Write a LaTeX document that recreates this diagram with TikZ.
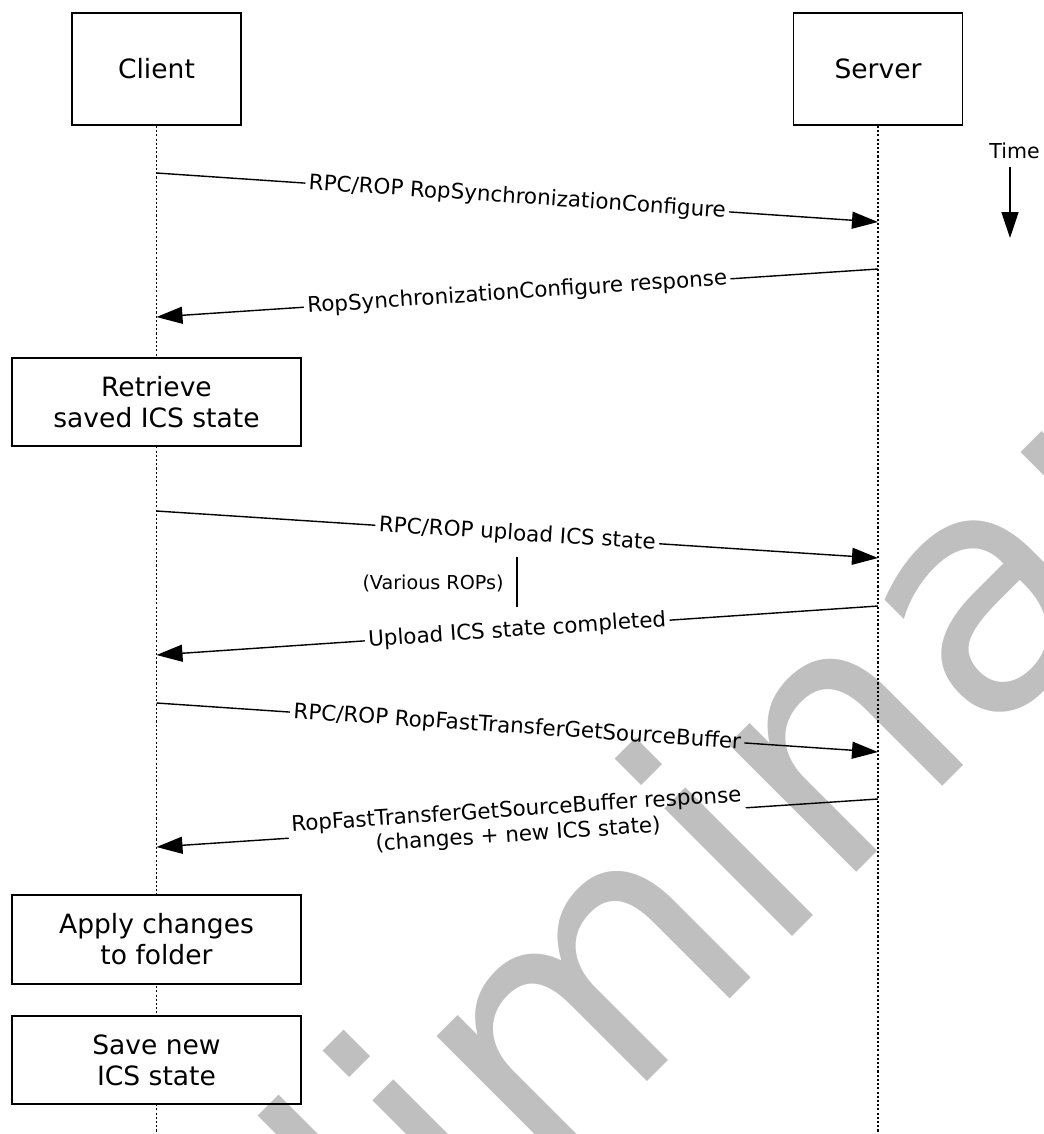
\documentclass[tikz,border=0pt]{standalone}
\usepackage{fontspec}
\setmainfont{DejaVu Sans}
\usetikzlibrary{arrows.meta}

\begin{document}
\begin{tikzpicture}[x=0.02cm,y=-0.02cm,
  actor/.style={draw,line width=1pt,fill=white,minimum width=3.38cm,minimum height=2.24cm,inner sep=0pt,font=\fontsize{15.1}{17.6}\selectfont},
  act/.style={draw,line width=1pt,fill=white,minimum width=5.78cm,minimum height=1.77cm,inner sep=0pt,align=center,font=\fontsize{15.1}{17.6}\selectfont},
  life/.style={line width=0.6pt,dash pattern=on 1.2pt off 1.2pt},
  msg/.style={line width=0.8pt,-{Triangle[length=0.52cm,width=0.34cm]}},
  lbl/.style={sloped,fill=white,inner sep=2pt,align=center,font=\fontsize{12.2}{14.2}\selectfont}]
  \useasboundingbox (0,0) rectangle (1044,1134);
  \node[actor] (client) at (156.5,69) {Client};
  \node[actor] (server) at (878,69) {Server};
  \coordinate (clientend) at (156.5,1134);
  \coordinate (serverend) at (878,1134);
  \draw[life] (client.south) -- (clientend);
  \draw[life] (server.south) -- (serverend);
  \node[act] (retrieve) at (156.5,402) {Retrieve\\saved ICS state};
  \node[act] (apply) at (156.5,939.5) {Apply changes\\to folder};
  \node[act] (save) at (156.5,1060) {Save new\\ICS state};
  % messages
  \coordinate (c1) at (156.5,173); \coordinate (s1) at (878,222);
  \coordinate (s2) at (878,269); \coordinate (c2) at (156.5,317);
  \coordinate (c3) at (156.5,511); \coordinate (s3) at (878,558);
  \coordinate (s4) at (878,606); \coordinate (c4) at (156.5,655);
  \coordinate (c5) at (156.5,703); \coordinate (s5) at (878,752);
  \coordinate (s6) at (878,799); \coordinate (c6) at (156.5,847);
  \draw[msg] (c1) -- node[lbl] {RPC/ROP RopSynchronizationConfigure} (s1);
  \draw[msg] (s2) -- node[lbl] {RopSynchronizationConfigure response} (c2);
  \draw[msg] (c3) -- node[lbl] {RPC/ROP upload ICS state} (s3);
  \draw[msg] (s4) -- node[lbl] {Upload ICS state completed} (c4);
  \draw[msg] (c5) -- node[lbl] {RPC/ROP RopFastTransferGetSourceBuffer} (s5);
  \draw[msg] (s6) -- node[lbl] {RopFastTransferGetSourceBuffer response\\(changes + new ICS state)} (c6);
  \node[inner sep=0pt,font=\fontsize{10.9}{13}\selectfont] (various) at (433,583) {(Various ROPs)};
  \coordinate (bartop) at (517,557); \coordinate (barbot) at (517,607);
  \draw[line width=0.8pt] (bartop) -- (barbot);
  % time axis
  \node[inner sep=0pt,font=\fontsize{11.7}{14}\selectfont] (time) at (1014.5,150.5) {Time};
  \coordinate (timetop) at (1010,167); \coordinate (timeend) at (1010,238);
  \draw[msg] (timetop) -- (timeend);
  \begin{scope}
    \clip (0,0) rectangle (1044,1134);
    \node[rotate=45,anchor=base west,inner sep=0pt,opacity=0.25,font=\fontsize{188}{200}\selectfont] (wmark) at (42,1687) {Preliminary};
  \end{scope}
\end{tikzpicture}
\end{document}
